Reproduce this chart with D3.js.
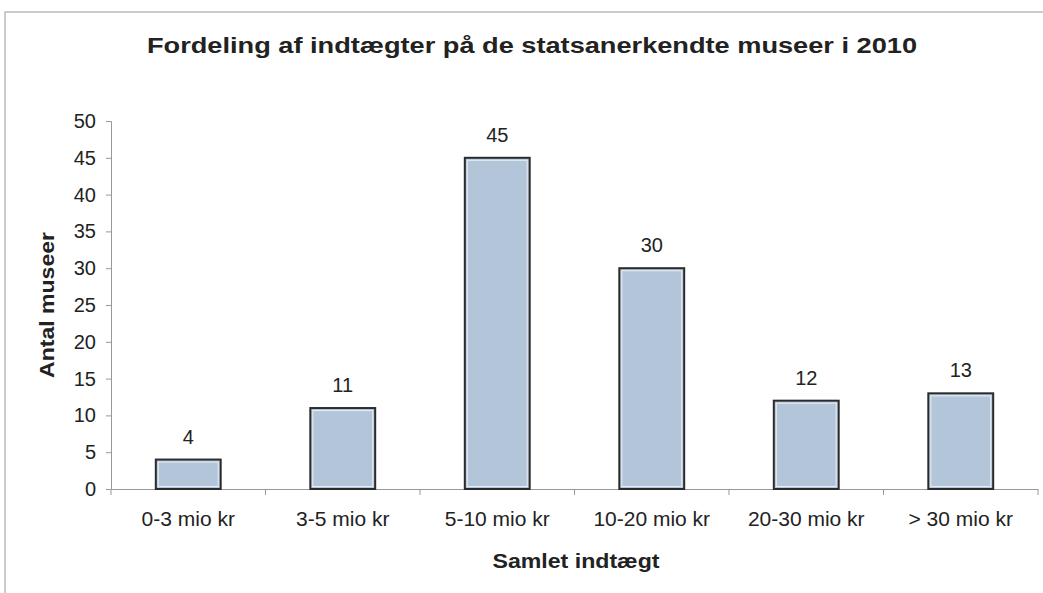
<!DOCTYPE html>
<html>
<head>
<meta charset="utf-8">
<script src="https://cdn.jsdelivr.net/npm/d3@7"></script>
<style>
  body { margin: 0; background: #fff; }
  svg { font-family: "Liberation Sans", Arial, sans-serif; }
</style>
</head>
<body>
<div id="chart"></div>
<script>
// data
var categories = ["0-3 mio kr", "3-5 mio kr", "5-10 mio kr", "10-20 mio kr", "20-30 mio kr", "> 30 mio kr"];
var counts = [4, 11, 45, 30, 12, 13];
var yTicks = [0, 5, 10, 15, 20, 25, 30, 35, 40, 45, 50];

var W = 1043, H = 593;
var margin = {top: 121, right: 5, bottom: 104, left: 111},
width = W - margin.left - margin.right,
height = H - margin.top - margin.bottom;

var svg = d3.select("#chart").append("svg")
.attr("width", W)
.attr("height", H);

// chart frame
svg.append("rect")
.attr("x", 5).attr("y", 12)
.attr("width", W + 10).attr("height", H + 10)
.attr("fill", "none")
.attr("stroke", "#bbb")
.attr("stroke-width", 1.5);

svg.append("text")
.attr("x", 532).attr("y", 53)
.attr("text-anchor", "middle")
.attr("textLength", 770)
.attr("lengthAdjust", "spacingAndGlyphs")
.style("font-size", "22px")
.style("font-weight", "bold")
.attr("fill", "#222")
.text("Fordeling af indtægter på de statsanerkendte museer i 2010");

var g = svg.append("g")
.attr("transform", "translate(" + margin.left + "," + margin.top + ")");

var x = d3.scaleBand()
.domain(categories)
.range([0, width])
.paddingInner(0.58)
.paddingOuter(0.29);

var band = d3.scaleBand().domain(categories).range([0, width]);

var y = d3.scaleLinear().domain([0, 50]).range([height, 0]);

// y axis
var yAxis = g.append("g")
.call(d3.axisLeft(y).tickValues(yTicks).tickSize(5).tickPadding(10));
yAxis.select(".domain").attr("stroke", "#999");
yAxis.selectAll(".tick line").attr("stroke", "#999");
yAxis.selectAll("text").style("font-size", "20px").attr("fill", "#222");

// x axis with ticks between categories
var xAxis = g.append("g")
.attr("transform", "translate(0," + height + ")")
.call(d3.axisBottom(band).tickSize(0).tickPadding(22));
xAxis.select(".domain").attr("stroke", "#999");
xAxis.selectAll("text").style("font-size", "21px").attr("fill", "#222");
xAxis.selectAll(".sep")
.data(categories)
.enter().append("line")
.attr("x1", function(d) { return band(d) + band.bandwidth(); })
.attr("x2", function(d) { return band(d) + band.bandwidth(); })
.attr("y1", 0).attr("y2", 6)
.attr("stroke", "#999");
xAxis.append("line")
.attr("x1", 0).attr("x2", 0).attr("y1", 0).attr("y2", 6)
.attr("stroke", "#999");

// bars
g.selectAll(".bar")
.data(counts)
.enter().append("rect")
.attr("class", "bar")
.attr("x", function(d, i) { return x(categories[i]); })
.attr("width", x.bandwidth())
.attr("y", function(d) { return y(d); })
.attr("height", function(d) { return height - y(d); })
.attr("fill", "#b3c5d8")
.attr("stroke", "#2b2b2b")
.attr("stroke-width", 2);

// thin light inner edge
g.selectAll(".inner")
.data(counts)
.enter().append("rect")
.attr("x", function(d, i) { return x(categories[i]) + 2.5; })
.attr("width", x.bandwidth() - 5)
.attr("y", function(d) { return y(d) + 2.5; })
.attr("height", function(d) { return Math.max(0, height - y(d) - 5); })
.attr("fill", "none")
.attr("stroke", "#e8eef4")
.attr("stroke-width", 1);

// value labels
g.selectAll(".val")
.data(counts)
.enter().append("text")
.attr("x", function(d, i) { return x(categories[i]) + x.bandwidth() / 2; })
.attr("y", function(d) { return y(d) - 16; })
.attr("text-anchor", "middle")
.style("font-size", "20px")
.attr("fill", "#222")
.text(function(d) { return d; });

// axis titles
svg.append("text")
.attr("transform", "translate(54,305) rotate(-90)")
.attr("text-anchor", "middle")
.attr("textLength", 146)
.attr("lengthAdjust", "spacingAndGlyphs")
.style("font-size", "20px")
.style("font-weight", "bold")
.attr("fill", "#222")
.text("Antal museer");

svg.append("text")
.attr("x", 576).attr("y", 568)
.attr("text-anchor", "middle")
.attr("textLength", 167)
.attr("lengthAdjust", "spacingAndGlyphs")
.style("font-size", "20px")
.style("font-weight", "bold")
.attr("fill", "#222")
.text("Samlet indtægt");
</script>
</body>
</html>
